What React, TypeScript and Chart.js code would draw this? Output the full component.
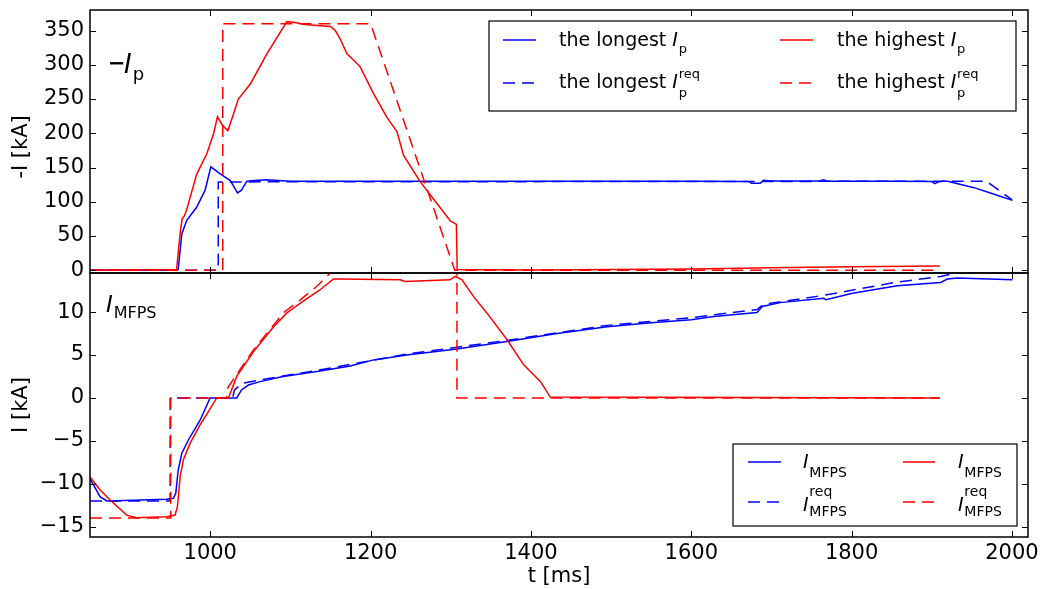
import React, { useEffect, useRef } from 'react';
import { Chart, registerables } from 'chart.js';

Chart.register(...registerables);

// ---------- tick labels ----------
const X_TICKS = [1000, 1200, 1400, 1600, 1800, 2000];
const TOP_Y_TICKS = [0, 50, 100, 150, 200, 250, 300, 350];
const BOT_Y_TICKS = [-15, -10, -5, 0, 5, 10];

// ---------- top panel: -I_p [kA] ----------
const longestIpT = [850, 958, 960, 964.5, 970.7, 983, 993.6, 1000.7, 1012, 1025, 1034, 1039, 1045.6, 1055, 1070.6, 1100, 1200, 1300, 1400, 1500, 1600, 1672, 1675, 1686, 1690, 1700, 1760, 1765, 1770, 1850, 1900, 1904, 1908, 1913, 1920, 1952.7, 1975, 2000.6];
const longestIpV = [0, 0, 1, 53, 73, 92, 117, 151, 141, 131, 113, 117, 130, 131, 132, 130, 130, 130, 130, 130, 130, 129.5, 127, 127, 131.5, 130.5, 130.5, 132, 130, 130, 129.5, 126.5, 129, 130, 130, 120.6, 112, 102];

const longestIpReqT = [850, 1010, 1010, 1968, 2000];
const longestIpReqV = [0, 0, 129, 130, 103];

const highestIpT = [850, 958, 963, 965, 968, 971, 983, 995.7, 1004, 1009, 1015.6, 1022, 1029, 1035, 1050, 1070.6, 1095.6, 1104, 1118, 1150, 1156, 1162, 1170.5, 1178.7, 1187, 1203.7, 1220, 1233, 1241, 1262, 1283, 1299.5, 1307, 1308, 1400, 1500, 1600, 1700, 1800, 1910];
const highestIpV = [0, 1, 60, 75, 80, 90, 140, 170, 199, 224, 211, 204, 228, 250, 272, 316, 363, 362, 359, 356, 350, 338, 316, 307, 297, 258, 224, 202, 168, 129, 97, 72, 67, 1, 0.5, 1, 2, 3.5, 5, 6.3];

const highestIpReqT = [850, 1015.6, 1015.6, 1200, 1305, 1910];
const highestIpReqV = [0, 0, 360, 360, 0, 0];

// ---------- bottom panel: I_MFPS [kA] ----------
const longestMfpsT = [850, 862.5, 871, 945.6, 954, 957, 960, 964.5, 972.7, 987.3, 999.8, 1033, 1039, 1047.6, 1062, 1091, 1133, 1174.6, 1203.7, 1245, 1307.8, 1370, 1432.5, 1495, 1550, 1600, 1628, 1682, 1688.5, 1711, 1765, 1768, 1801, 1857, 1911, 1919.5, 1932, 2000.6];
const longestMfpsV = [-9.4, -11.5, -12, -11.8, -11.7, -11.1, -8.4, -6.45, -4.9, -2.6, 0, 0, 0.93, 1.5, 1.9, 2.5, 3.07, 3.73, 4.43, 5.0, 5.7, 6.57, 7.5, 8.3, 8.75, 9.1, 9.48, 9.95, 10.65, 11.1, 11.6, 11.45, 12.2, 13.06, 13.45, 13.85, 13.96, 13.76];

const longestMfpsReqT = [850, 950, 950, 1028, 1030, 1040, 1062, 1133, 1245, 1370, 1495, 1600, 1682, 1690, 1765, 1857, 1911, 1932, 1960];
const longestMfpsReqV = [-12, -12, 0, 0, 0.9, 1.7, 2.1, 3.2, 5.1, 6.7, 8.45, 9.35, 10.3, 10.9, 11.95, 13.5, 14.15, 14.6, 15.2];

const highestMfpsT = [850, 862.5, 875, 895.8, 908, 945.6, 956, 959, 962.4, 966.5, 974.8, 987.3, 997.7, 1008, 1022.7, 1033, 1054, 1079, 1095.6, 1112, 1137, 1153.7, 1162, 1237, 1243, 1299, 1305.7, 1314, 1328.5, 1345, 1370, 1391, 1412, 1424, 1910];
const highestMfpsV = [-9.2, -10.7, -11.9, -13.65, -13.96, -13.84, -13.65, -12.7, -9.2, -7.2, -5.3, -3.15, -1.6, 0, 0, 2.5, 5.4, 8.3, 9.9, 11.0, 12.6, 13.85, 13.85, 13.76, 13.57, 13.76, 14.15, 13.76, 11.8, 9.9, 6.8, 3.85, 1.9, 0.1, 0];

const highestMfpsReqT = [850, 950.7, 950.7, 1020.5, 1022, 1037, 1054, 1070.6, 1091, 1112, 1133, 1147.6, 1160, 1307.7, 1307.7, 1910];
const highestMfpsReqV = [-14, -14, 0, 0, 1.2, 3.3, 5.6, 7.5, 9.9, 11.4, 13, 14.35, 15.5, 15.5, 0, 0];

// ---------- styling ----------
const BLUE = '#0000ff';
const RED = '#ff0000';
const FAMILY = '"DejaVu Sans", "Noto Sans", sans-serif';
const DASH = [12, 7];
const TICK_FONT = 21;

const fnt = (size: number, italic = false, bold = false) => `${italic ? 'italic ' : ''}${bold ? 'bold ' : ''}${size}px ${FAMILY}`;
const minus = (v: number | string) => String(v).replace('-', '\u2212');

function ds(t: number[], v: number[], color: string, dashed: boolean) {
  return {
    data: t.map((x, i) => ({ x, y: v[i] })),
    borderColor: color,
    backgroundColor: color,
    borderWidth: 1.5,
    borderDash: dashed ? DASH : [],
    pointRadius: 0,
    pointHoverRadius: 0,
    fill: false,
    tension: 0,
  };
}

// symbol like I_sub^sup, italic base
function drawSym(ctx: CanvasRenderingContext2D, x: number, y: number, base: string, size: number,
  sub: string | null, sup: string | null, ss: number, subDrop: number, supRise: number) {
  ctx.font = fnt(size, true);
  ctx.fillText(base, x, y);
  const w = ctx.measureText(base).width;
  ctx.font = fnt(ss, false);
  const sx = x + w + size * 0.04;
  if (sub) ctx.fillText(sub, sx, y + subDrop);
  if (sup) ctx.fillText(sup, sx, y - supRise);
}

function hline(ctx: CanvasRenderingContext2D, x1: number, x2: number, y: number, color: string, dashed: boolean) {
  ctx.save();
  ctx.strokeStyle = color;
  ctx.lineWidth = 1.5;
  ctx.setLineDash(dashed ? DASH : []);
  ctx.beginPath();
  ctx.moveTo(x1, y);
  ctx.lineTo(x2, y);
  ctx.stroke();
  ctx.restore();
}

function framePlugin(yTicks: number[], offY: number, extras: (ctx: CanvasRenderingContext2D, oy: number) => void) {
  return {
    id: 'frameAndText',
    afterDraw(chart: any) {
      const { ctx, chartArea: a, scales } = chart;
      ctx.save();
      ctx.strokeStyle = '#000';
      ctx.lineWidth = 1;
      const TL = 6;
      ctx.beginPath();
      for (const v of X_TICKS) {
        const px = Math.round(scales.x.getPixelForValue(v)) + 0.5;
        ctx.moveTo(px, a.top); ctx.lineTo(px, a.top + TL);
        ctx.moveTo(px, a.bottom); ctx.lineTo(px, a.bottom - TL);
      }
      for (const v of yTicks) {
        const py = Math.round(scales.y.getPixelForValue(v)) + 0.5;
        ctx.moveTo(a.left, py); ctx.lineTo(a.left + TL, py);
        ctx.moveTo(a.right, py); ctx.lineTo(a.right - TL, py);
      }
      ctx.stroke();
      ctx.lineWidth = 1.5;
      ctx.strokeRect(a.left, a.top, a.right - a.left, a.bottom - a.top);
      ctx.fillStyle = '#000';
      ctx.textBaseline = 'alphabetic';
      ctx.textAlign = 'left';
      extras(ctx, -offY);
      ctx.restore();
    },
  };
}

function yScale(min: number, max: number, ticks: number[], title: string) {
  return {
    type: 'linear',
    min,
    max,
    afterBuildTicks: (s: any) => { s.ticks = ticks.map((value) => ({ value })); },
    afterFit: (s: any) => { s.width = 90; s.paddingTop = 0; s.paddingBottom = 0; },
    grid: { display: false, drawTicks: false },
    border: { display: false },
    ticks: { font: { family: FAMILY, size: TICK_FONT }, color: '#000', padding: 6, callback: (v: any) => minus(v) },
    title: { display: true, text: title, color: '#000', font: { family: FAMILY, size: TICK_FONT }, padding: { top: 9, bottom: 0 } },
  };
}

function topConfig(): any {
  const offY = 0;
  return {
    type: 'line',
    data: {
      datasets: [
        ds(highestIpReqT, highestIpReqV, RED, true),
        ds(highestIpT, highestIpV, RED, false),
        ds(longestIpReqT, longestIpReqV, BLUE, true),
        ds(longestIpT, longestIpV, BLUE, false),
      ],
    },
    options: {
      animation: false,
      responsive: false,
      events: [],
      layout: { padding: { left: 0, right: 15, top: 10, bottom: 17 } },
      plugins: { legend: { display: false }, tooltip: { enabled: false } },
      scales: {
        x: { type: 'linear', min: 850, max: 2020, display: false },
        y: yScale(-4, 380, TOP_Y_TICKS, '-I [kA] \u2009'),
      },
    },
    plugins: [framePlugin(TOP_Y_TICKS, offY, (ctx, oy) => {
      // panel label
      ctx.font = fnt(21, false, true);
      ctx.fillText('\u2212', 108, 70 + oy);
      drawSym(ctx, 124, 73 + oy, 'I', 26, 'p', null, 18, 7, 0);
      // legend box
      ctx.save();
      ctx.fillStyle = '#fff';
      ctx.fillRect(489, 21 + oy, 527, 90);
      ctx.lineWidth = 1.2;
      ctx.strokeStyle = '#000';
      ctx.strokeRect(489, 21 + oy, 527, 90);
      ctx.restore();
      const LF = 19;
      hline(ctx, 503, 536, 40 + oy, BLUE, false);
      hline(ctx, 503, 536, 83 + oy, BLUE, true);
      hline(ctx, 780, 813, 40 + oy, RED, false);
      hline(ctx, 780, 813, 83 + oy, RED, true);
      const items: [number, number, string, boolean][] = [
        [559, 46, 'the longest ', false],
        [559, 88, 'the longest ', true],
        [837, 46, 'the highest ', false],
        [837, 88, 'the highest ', true],
      ];
      for (const [x, y, txt, req] of items) {
        ctx.font = fnt(LF);
        ctx.fillText(txt, x, y + oy);
        const w = ctx.measureText(txt).width;
        drawSym(ctx, x + w, y + oy, 'I', LF, 'p', req ? 'req' : null, 13, req ? 9 : 7, 10);
      }
    })],
  };
}

function botConfig(): any {
  const offY = 256;
  return {
    type: 'line',
    data: {
      datasets: [
        ds(highestMfpsReqT, highestMfpsReqV, RED, true),
        ds(highestMfpsT, highestMfpsV, RED, false),
        ds(longestMfpsReqT, longestMfpsReqV, BLUE, true),
        ds(longestMfpsT, longestMfpsV, BLUE, false),
      ],
    },
    options: {
      animation: false,
      responsive: false,
      events: [],
      layout: { padding: { left: 0, right: 15, top: 17, bottom: 0 } },
      plugins: { legend: { display: false }, tooltip: { enabled: false } },
      scales: {
        x: {
          type: 'linear',
          min: 850,
          max: 2020,
          afterBuildTicks: (s: any) => { s.ticks = X_TICKS.map((value) => ({ value })); },
          afterFit: (s: any) => { s.height = 52; s.paddingLeft = 0; s.paddingRight = 0; },
          grid: { display: false, drawTicks: false },
          border: { display: false },
          ticks: { font: { family: FAMILY, size: TICK_FONT }, color: '#000', padding: 4, maxRotation: 0, autoSkip: false, callback: (v: any) => String(v) },
          title: { display: true, text: 't [ms]', color: '#000', font: { family: FAMILY, size: TICK_FONT }, padding: { top: 0, bottom: 0 } },
        },
        y: yScale(-16.2, 14.55, BOT_Y_TICKS, 'I [kA]'),
      },
    },
    plugins: [framePlugin(BOT_Y_TICKS, offY, (ctx, oy) => {
      drawSym(ctx, 106, 312 + oy, 'I', 23, 'MFPS', null, 16, 6, 0);
      ctx.save();
      ctx.fillStyle = '#fff';
      ctx.fillRect(733, 444 + oy, 284, 82);
      ctx.lineWidth = 1.2;
      ctx.strokeStyle = '#000';
      ctx.strokeRect(733, 444 + oy, 284, 82);
      ctx.restore();
      hline(ctx, 748, 781, 462 + oy, BLUE, false);
      hline(ctx, 748, 781, 502 + oy, BLUE, true);
      hline(ctx, 903, 935, 462 + oy, RED, false);
      hline(ctx, 903, 935, 502 + oy, RED, true);
      const LF = 19;
      drawSym(ctx, 803, 468 + oy, 'I', LF, 'MFPS', null, 14, 9, 0);
      drawSym(ctx, 803, 511 + oy, 'I', LF, 'MFPS', 'req', 14, 5, 15);
      drawSym(ctx, 958, 468 + oy, 'I', LF, 'MFPS', null, 14, 9, 0);
      drawSym(ctx, 958, 511 + oy, 'I', LF, 'MFPS', 'req', 14, 5, 15);
    })],
  };
}

export default function App() {
  const topRef = useRef<HTMLCanvasElement>(null);
  const botRef = useRef<HTMLCanvasElement>(null);
  useEffect(() => {
    const top = new Chart(topRef.current as HTMLCanvasElement, topConfig());
    const bot = new Chart(botRef.current as HTMLCanvasElement, botConfig());
    return () => { top.destroy(); bot.destroy(); };
  }, []);
  return (
    <div style={{ position: 'fixed', left: 0, top: 0, width: 1043, height: 589, background: '#fff', overflow: 'hidden' }}>
      <canvas ref={topRef} width={1043} height={290} style={{ position: 'absolute', left: 0, top: 0 }} />
      <canvas ref={botRef} width={1043} height={333} style={{ position: 'absolute', left: 0, top: 256 }} />
    </div>
  );
}
